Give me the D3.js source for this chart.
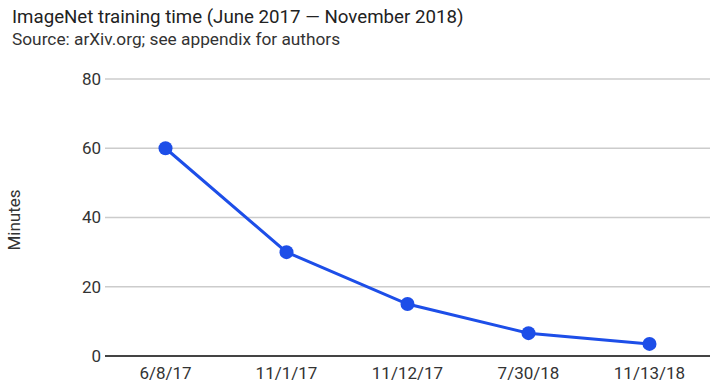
<!DOCTYPE html>
<html><head><meta charset="utf-8">
<script src="https://cdn.jsdelivr.net/npm/d3@7"></script>
<style>body{margin:0;background:#fff;} text{font-family:Roboto,"Noto Sans",sans-serif;}</style>
</head><body>
<svg id="c" width="710" height="384"></svg>
<script>
const categories = ["6/8/17", "11/1/17", "11/12/17", "7/30/18", "11/13/18"];
const minutes = [60, 30, 15, 6.6, 3.5];
const yTicks = [0, 20, 40, 60, 80];
const title = "ImageNet training time (June 2017 \u2014 November 2018)";
const subtitle = "Source: arXiv.org; see appendix for authors";
const yLabel = "Minutes";

(function () {
const svg = d3.select("#c");
const mLeft = 105, mRight = 710, mTop = 79, mBottom = 356;
const x = d3.scaleBand().domain(categories).range([mLeft, mRight]);
const y = d3.scaleLinear().domain([0, 80]).range([mBottom, mTop]);

svg.append("text").attr("x", 12).attr("y", 23).attr("font-size", 18.7).attr("fill", "#222").text(title);
svg.append("text").attr("x", 12).attr("y", 45).attr("font-size", 17.3).attr("fill", "#333").text(subtitle);

const g = svg.append("g");
g.selectAll("line.grid").data(yTicks.filter(d => d !== 0)).join("line")
  .attr("x1", mLeft).attr("x2", mRight)
  .attr("y1", d => y(d)).attr("y2", d => y(d))
  .attr("stroke", "#cccccc").attr("stroke-width", 1.5);
g.append("line").attr("x1", mLeft).attr("x2", mRight).attr("y1", y(0)).attr("y2", y(0))
  .attr("stroke", "#444").attr("stroke-width", 2);

g.selectAll("text.yt").data(yTicks).join("text")
  .attr("x", 101).attr("y", d => y(d)).attr("dy", "0.35em")
  .attr("text-anchor", "end").attr("font-size", 17).attr("fill", "#333").text(d => d);

g.selectAll("text.xt").data(categories).join("text")
  .attr("x", d => x(d) + x.bandwidth() / 2).attr("y", 379)
  .attr("text-anchor", "middle").attr("font-size", 17).attr("fill", "#333").text(d => d);

svg.append("text").attr("transform", "translate(20,220) rotate(-90)")
  .attr("text-anchor", "middle").attr("font-size", 17).attr("fill", "#333").text(yLabel);

const data = categories.map((c, i) => ({c, v: minutes[i]}));
const line = d3.line().x(d => x(d.c) + x.bandwidth() / 2).y(d => y(d.v));
svg.append("path").datum(data).attr("d", line).attr("fill", "none")
  .attr("stroke", "#1d4ee8").attr("stroke-width", 3);
svg.selectAll("circle").data(data).join("circle")
  .attr("cx", d => x(d.c) + x.bandwidth() / 2).attr("cy", d => y(d.v)).attr("r", 7)
  .attr("fill", "#1d4ee8");
})();
</script>
</body></html>
